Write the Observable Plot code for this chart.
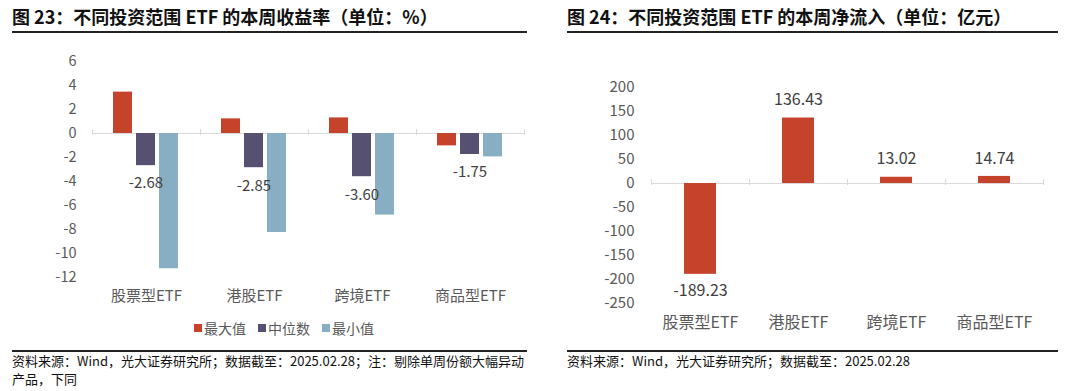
<!DOCTYPE html>
<html>
<head>
<meta charset="utf-8">
<script src="https://cdn.jsdelivr.net/npm/d3@7"></script>
<script src="https://cdn.jsdelivr.net/npm/@observablehq/plot@0.6"></script>
<style>
  html, body { margin: 0; padding: 0; background: #fff; }
  #page { position: relative; width: 1080px; height: 391px; overflow: hidden; font-family: "Noto Sans CJK SC", "Noto Sans", sans-serif; }
  .title { position: absolute; top: 3px; font-size: 18px; font-weight: bold; color: #111; line-height: 26px; white-space: nowrap; }
  .hr { position: absolute; height: 2px; background: #222; }
  .src { position: absolute; top: 352px; font-size: 13px; color: #111; line-height: 18px; white-space: nowrap; }
  .chart { position: absolute; top: 40px; }
  .legend { position: absolute; top: 318px; height: 20px; display: flex; align-items: center; font-size: 14px; color: #595959; white-space: nowrap; }
  .legend .item { display: flex; align-items: center; margin-right: 12px; }
  .legend .sw { width: 8px; height: 8px; margin-right: 2px; }
</style>
</head>
<body>
<div id="page">
  <div class="title" style="left:12px">图 23：不同投资范围 ETF 的本周收益率（单位：%）</div>
  <div class="hr" style="left:12px; width:515px; top:31px"></div>
  <div class="chart" id="left" style="left:0px"></div>
  <div class="legend" id="legend" style="left:194px"></div>
  <div class="hr" style="left:12px; width:515px; top:350px"></div>
  <div class="src" style="left:12px">资料来源：Wind，光大证券研究所；数据截至：2025.02.28；注：剔除单周份额大幅异动<br>产品，下同</div>

  <div class="title" style="left:567px">图 24：不同投资范围 ETF 的本周净流入（单位：亿元）</div>
  <div class="hr" style="left:567px; width:491px; top:31px"></div>
  <div class="chart" id="right" style="left:540px"></div>
  <div class="hr" style="left:567px; width:491px; top:350px"></div>
  <div class="src" style="left:567px">资料来源：Wind，光大证券研究所；数据截至：2025.02.28</div>
</div>
<script>
// ---- Data ----
const categories = ["股票型ETF", "港股ETF", "跨境ETF", "商品型ETF"];
const seriesNames = ["最大值", "中位数", "最小值"];
const maxValues = [3.45, 1.22, 1.30, -1.03];
const medianValues = [-2.68, -2.85, -3.60, -1.75];
const minValues = [-11.27, -8.25, -6.80, -1.95];
const returnTicks = [6, 4, 2, 0, -2, -4, -6, -8, -10, -12];
const flowValues = [-189.23, 136.43, 13.02, 14.74];
const flowTicks = [200, 150, 100, 50, 0, -50, -100, -150, -200, -250];
const seriesColors = ["#C5432A", "#565170", "#87AEC2"];

const fontFamily = "'Noto Sans CJK SC', 'Noto Sans', sans-serif";
const gridColor = "#d9d9d9";

// ---- Left chart: weekly returns ----
const returnRows = [];
categories.forEach((c, i) => {
  [maxValues, medianValues, minValues].forEach((arr, s) => {
    returnRows.push({category: c, series: seriesNames[s], value: arr[i]});
  });
});
const medianRows = returnRows.filter(d => d.series === "中位数");

const L = {width: 540, height: 270, top: 21, bottom: 33, left: 91, right: 15, ymin: -12, ymax: 6};
const LplotH = L.height - L.top - L.bottom;
const Lzero = (L.ymax - 0) / (L.ymax - L.ymin) * LplotH;

const leftPlot = Plot.plot({
  width: L.width, height: L.height,
  marginTop: L.top, marginBottom: L.bottom, marginLeft: L.left, marginRight: L.right,
  style: {fontFamily, fontSize: "15px", color: "#595959", background: "transparent"},
  fx: {domain: categories, padding: 0, label: null},
  x: {domain: seriesNames, paddingInner: 0.17, paddingOuter: 0.84, axis: null},
  y: {domain: [L.ymin, L.ymax], label: null},
  color: {domain: seriesNames, range: seriesColors},
  marks: [
    Plot.ruleY([0], {stroke: gridColor, strokeWidth: 1.2}),
    Plot.frame({anchor: "left", stroke: gridColor, insetTop: Lzero - 4, insetBottom: LplotH - Lzero - 1}),
    Plot.frame({anchor: "right", stroke: gridColor, insetTop: Lzero - 4, insetBottom: LplotH - Lzero - 1}),
    Plot.barY(returnRows, {fx: "category", x: "series", y: "value", fill: "series"}),
    Plot.text(medianRows, {fx: "category", x: "series", y: "value", text: d => d.value.toFixed(2), dy: 18, fill: "#404040", fontSize: 15}),
    Plot.axisY({ticks: returnTicks, tickFormat: d => String(d), tickSize: 0, tickPadding: 16, label: null, fontSize: 14.5}),
    Plot.axisFx({anchor: "bottom", tickSize: 0, tickPadding: 13, label: null, fontSize: 15})
  ]
});
document.getElementById("left").appendChild(leftPlot);

// legend
const legend = document.getElementById("legend");
seriesNames.forEach((name, i) => {
  const item = document.createElement("div");
  item.className = "item";
  const sw = document.createElement("span");
  sw.className = "sw";
  sw.style.background = seriesColors[i];
  const t = document.createElement("span");
  t.textContent = name;
  item.appendChild(sw); item.appendChild(t);
  legend.appendChild(item);
});

// ---- Right chart: weekly net inflow ----
const flowRows = categories.map((c, i) => ({category: c, value: flowValues[i]}));
const R = {width: 540, height: 300, top: 47, bottom: 37, left: 110, right: 37, ymin: -250, ymax: 200};
const RplotH = R.height - R.top - R.bottom;
const Rzero = (R.ymax - 0) / (R.ymax - R.ymin) * RplotH;

const rightPlot = Plot.plot({
  width: R.width, height: R.height,
  marginTop: R.top, marginBottom: R.bottom, marginLeft: R.left, marginRight: R.right,
  style: {fontFamily, fontSize: "15px", color: "#595959", background: "transparent"},
  fx: {domain: categories, padding: 0, label: null},
  y: {domain: [R.ymin, R.ymax], label: null},
  marks: [
    Plot.ruleY([0], {stroke: gridColor, strokeWidth: 1.2}),
    Plot.frame({anchor: "left", stroke: gridColor, insetTop: Rzero - 4, insetBottom: RplotH - Rzero - 1}),
    Plot.frame({anchor: "right", stroke: gridColor, insetTop: Rzero - 4, insetBottom: RplotH - Rzero - 1}),
    Plot.barY(flowRows, {fx: "category", y: "value", fill: seriesColors[0], insetLeft: 33, insetRight: 33}),
    Plot.text(flowRows.filter(d => d.value >= 0), {fx: "category", y: "value", text: d => d.value.toFixed(2), dy: -18, fill: "#404040", fontSize: 16}),
    Plot.text(flowRows.filter(d => d.value < 0), {fx: "category", y: "value", text: d => d.value.toFixed(2), dy: 17, fill: "#404040", fontSize: 16}),
    Plot.axisY({ticks: flowTicks, tickFormat: d => String(d), tickSize: 0, tickPadding: 17, label: null, fontSize: 15}),
    Plot.axisFx({anchor: "bottom", tickSize: 0, tickPadding: 13, label: null, fontSize: 16})
  ]
});
document.getElementById("right").appendChild(rightPlot);
</script>
</body>
</html>
